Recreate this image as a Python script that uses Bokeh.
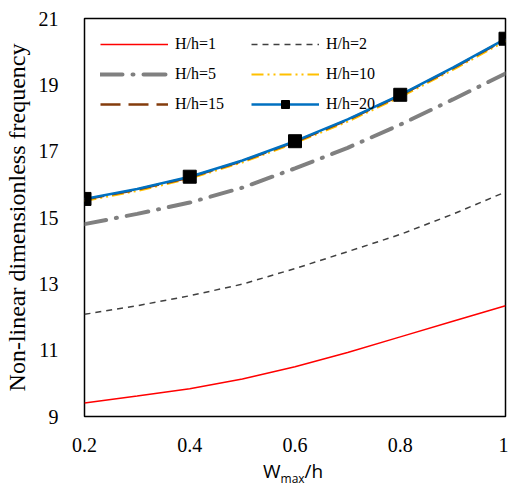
from bokeh.plotting import figure
from bokeh.models import Range1d, FixedTicker, Legend, LegendItem, Div
from bokeh.layouts import column
from bokeh.embed import file_html
from bokeh.resources import INLINE

x = [0.2, 0.3, 0.4, 0.5, 0.6, 0.7, 0.8, 0.9, 1.0]
h1 = [9.41, 9.62, 9.84, 10.13, 10.50, 10.93, 11.40, 11.87, 12.34]
h2 = [12.08, 12.34, 12.64, 12.99, 13.46, 13.97, 14.49, 15.10, 15.77]
h5 = [14.80, 15.11, 15.45, 15.90, 16.48, 17.10, 17.80, 18.56, 19.34]
h10 = [15.50, 15.80, 16.17, 16.66, 17.24, 17.89, 18.63, 19.45, 20.32]
h15 = [15.54, 15.84, 16.21, 16.70, 17.28, 17.94, 18.68, 19.50, 20.37]
h20 = [15.56, 15.86, 16.23, 16.72, 17.30, 17.96, 18.70, 19.52, 20.39]
marker_idx = [0, 2, 4, 6, 8]
x_ticks = [0.2, 0.4, 0.6, 0.8, 1.0]
y_ticks = [9, 11, 13, 15, 17, 19, 21]

SERIF = "Liberation Serif"
SANS = "Open Sans"

p = figure(width=508, height=456, output_backend="svg", toolbar_location=None,
           x_range=Range1d(0.2, 1.0), y_range=Range1d(9, 21),
           min_border_left=82, min_border_right=3, min_border_top=18, min_border_bottom=40)
p.xgrid.visible = False
p.ygrid.visible = False
p.outline_line_color = "black"
p.outline_line_width = 1.5
p.background_fill_color = "white"
p.border_fill_color = "white"

for ax in (p.xaxis[0], p.yaxis[0]):
    ax.axis_line_color = None
    ax.major_tick_line_color = None
    ax.minor_tick_line_color = None
    ax.major_label_text_font = SERIF
    ax.major_label_text_font_size = "20px"
    ax.major_label_text_color = "black"

p.xaxis[0].ticker = FixedTicker(ticks=x_ticks)
p.xaxis[0].major_label_overrides = {1.0: "1", 1: "1"}
p.xaxis[0].major_label_standoff = 15
p.yaxis[0].ticker = FixedTicker(ticks=y_ticks)
p.yaxis[0].major_label_standoff = 20
p.yaxis[0].axis_label = "Non-linear dimensionless frequency"
p.yaxis[0].axis_label_text_font = SERIF
p.yaxis[0].axis_label_text_font_size = "24px"
p.yaxis[0].axis_label_text_font_style = "normal"
p.yaxis[0].axis_label_text_color = "black"
p.yaxis[0].axis_label_standoff = 6

r1 = p.line(x, h1, line_color="#FF0000", line_width=1.5)
r2 = p.line(x, h2, line_color="#404040", line_width=1.5, line_dash="6 5")
r5 = p.line(x, h5, line_color="#808080", line_width=4, line_dash="22 10 1 10", line_cap="round")
r10 = p.line(x, h10, line_color="#FFC000", line_width=2, line_dash="12 4 2 4 2 4")
r15 = p.line(x, h15, line_color="#843C0C", line_width=2.5, line_dash="20 8")
r20 = p.line(x, h20, line_color="#0070C0", line_width=2.5)
mx = [x[i] for i in marker_idx]
my = [h20[i] for i in marker_idx]
r20m = p.scatter(mx, my, marker="square", size=13, fill_color="black", line_color="black")

legend = Legend(items=[
    LegendItem(label="H/h=1", renderers=[r1]),
    LegendItem(label="H/h=5", renderers=[r5]),
    LegendItem(label="H/h=15", renderers=[r15]),
    LegendItem(label="H/h=2", renderers=[r2]),
    LegendItem(label="H/h=10", renderers=[r10]),
    LegendItem(label="H/h=20", renderers=[r20, r20m]),
], ncols=2, location=(16, 302))
legend.border_line_color = None
legend.background_fill_alpha = 0
legend.label_text_font = SERIF
legend.label_text_font_size = "16px"
legend.label_text_color = "black"
legend.glyph_width = 68
legend.glyph_height = 20
legend.label_height = 20
legend.label_standoff = 7
legend.spacing = 10
legend.label_width = 66
legend.padding = 2
legend.margin = 0
p.add_layout(legend, "center")

# x-axis title W_max/h
xtitle = Div(
    text=('<div style="font-family:\'Open Sans\';font-size:19px;line-height:22px;'
          'color:black;padding-left:263px;padding-top:4px;white-space:nowrap;">'
          '<span>W</span><span style="font-size:12px;position:relative;top:5px;">max</span>'
          '<span>/h</span></div>'),
    width=508, height=31, margin=0)

layout = column(p, xtitle, spacing=0)
open("out.html", "w").write(file_html(layout, INLINE))
